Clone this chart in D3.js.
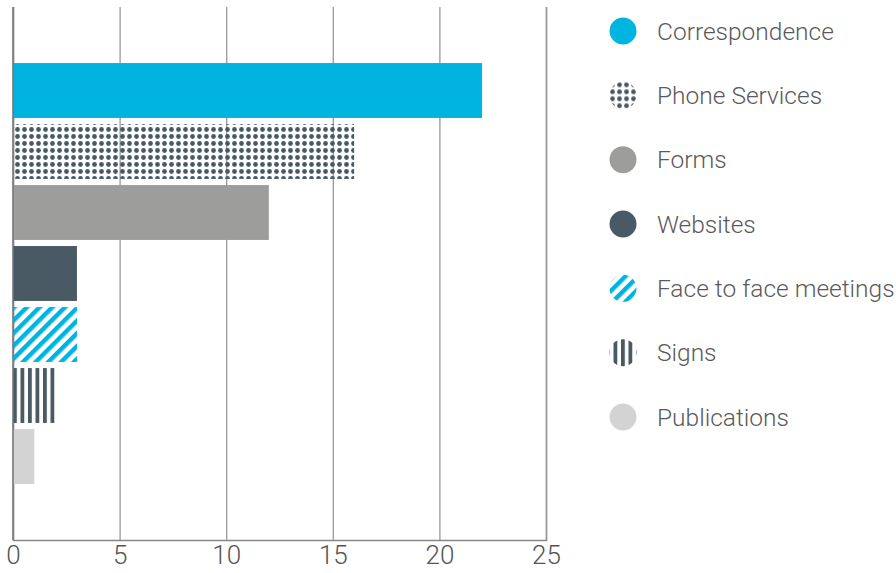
<!DOCTYPE html>
<html>
<head>
<meta charset="utf-8">
<script src="https://cdn.jsdelivr.net/npm/d3@7"></script>
<style>
  body { margin: 0; background: #fff; font-family: "Roboto", "Liberation Sans", sans-serif; }
  .tick text { fill: #555; font-size: 26px; font-weight: 300; }
  .legend-label { fill: #5a5a5a; font-size: 24.5px; font-weight: 300; }
</style>
</head>
<body>
<div id="chart"></div>
<script>
// categories, top to bottom
const categories = ["Correspondence", "Phone Services", "Forms", "Websites",
                    "Face to face meetings", "Signs", "Publications"];
const values = [22, 16, 12, 3, 3, 2, 1];
const fills = ["#00b4e0", "url(#dots)", "#9d9d9b", "#4a5a65",
               "url(#diag)", "url(#vert)", "#d3d3d3"];
const xTicks = [0, 5, 10, 15, 20, 25];

const width = 896, height = 573;
const svg = d3.select("#chart").append("svg")
    .attr("width", width)
    .attr("height", height);

// patterns
const defs = svg.append("defs");
const dots = defs.append("pattern").attr("id", "dots")
    .attr("patternUnits", "userSpaceOnUse")
    .attr("width", 7).attr("height", 7);
dots.append("circle").attr("cx", 3.5).attr("cy", 3.5).attr("r", 2.4).attr("fill", "#4a5a65");

const diag = defs.append("pattern").attr("id", "diag")
    .attr("patternUnits", "userSpaceOnUse")
    .attr("width", 9).attr("height", 9)
    .attr("patternTransform", "rotate(45)");
diag.append("rect").attr("width", 4.5).attr("height", 9).attr("fill", "#00b4e0");

const vert = defs.append("pattern").attr("id", "vert")
    .attr("patternUnits", "userSpaceOnUse")
    .attr("x", 13)
    .attr("width", 7.5).attr("height", 10);
vert.append("rect").attr("width", 3.8).attr("height", 10).attr("fill", "#4a5a65");

const x = d3.scaleLinear().domain([0, 25]).range([13, 546]);
const y = d3.scaleBand().domain(categories).range([60, 487])
    .paddingInner(0.1).paddingOuter(0.05);

// grid + bottom axis
const xAxisG = svg.append("g")
    .attr("transform", "translate(0,540)")
    .call(d3.axisBottom(x).tickValues(xTicks).tickSize(-533).tickPadding(5));
xAxisG.select(".domain").attr("stroke", "#888").attr("stroke-width", 1.5);
xAxisG.selectAll(".tick line").attr("stroke", "#999").attr("stroke-width", 1.3);
xAxisG.selectAll(".tick text").attr("dy", "0.72em").style("font-family", "Roboto, sans-serif");

// bars
svg.selectAll("rect.bar").data(categories)
  .enter().append("rect")
    .attr("class", "bar")
    .attr("x", x(0))
    .attr("y", d => y(d))
    .attr("width", (d, i) => x(values[i]) - x(0))
    .attr("height", y.bandwidth())
    .attr("fill", (d, i) => fills[i]);

// left axis line on top
svg.append("line")
    .attr("x1", x(0)).attr("x2", x(0))
    .attr("y1", 7).attr("y2", 540)
    .attr("stroke", "#777").attr("stroke-width", 1.5);

// legend
const legendY = d3.scalePoint().domain(categories).range([31, 417]);
const lg = svg.append("g");
const item = lg.selectAll("g").data(categories).enter().append("g")
    .attr("transform", d => `translate(623,${legendY(d)})`);
item.append("circle")
    .attr("r", 13.5)
    .attr("fill", (d, i) => fills[i]);
item.append("text")
    .attr("class", "legend-label")
    .attr("x", 34)
    .attr("dy", "0.35em")
    .text(d => d);
</script>
</body>
</html>
